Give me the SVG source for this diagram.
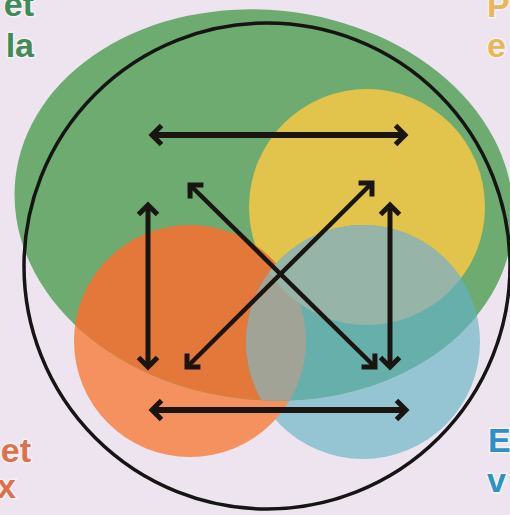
<svg xmlns="http://www.w3.org/2000/svg" width="510" height="515" viewBox="0 0 510 515">
  <defs>
    <style>
      .lbl { font-family: "Liberation Sans", Arial, sans-serif; font-weight: bold; font-size: 34px; stroke: #f6f0f6; stroke-width: 3; paint-order: stroke; }
      .arr { fill: none; stroke: #1b1512; stroke-linecap: butt; marker-start: url(#head); marker-end: url(#head); }
    </style>
    <marker id="head" markerUnits="userSpaceOnUse" viewBox="0 0 16 22" markerWidth="16" markerHeight="22" refX="12" refY="11" orient="auto-start-reverse" overflow="visible">
      <path d="M2.5,1.5 L12,11 L2.5,20.5" fill="none" stroke="#1b1512" stroke-width="5" stroke-linejoin="miter"/>
    </marker>
    <clipPath id="greenClip">
      <ellipse cx="264" cy="205" rx="250" ry="195" transform="rotate(6 264 205)"/>
    </clipPath>
    <clipPath id="orangeClip">
      <circle cx="190" cy="341" r="116"/>
    </clipPath>
    <clipPath id="yellowClip">
      <circle cx="367" cy="207" r="118"/>
    </clipPath>
  </defs>

  <rect width="510" height="515" fill="#ede4f0"/>

  <g id="node-blue-outer">
    <circle cx="363" cy="342" r="117" fill="#95c4d2"/>
  </g>
  <g id="node-orange-outer">
    <circle cx="190" cy="341" r="116" fill="#f5905f"/>
  </g>
  <g id="node-green">
    <ellipse cx="264" cy="205" rx="250" ry="195" transform="rotate(6 264 205)" fill="#6dab70"/>
  </g>
  <g id="node-yellow">
    <circle cx="367" cy="207" r="118" fill="#e2c34b"/>
  </g>
  <g id="overlaps" clip-path="url(#greenClip)">
    <circle cx="190" cy="341" r="116" fill="#e3783a"/>
    <circle cx="363" cy="342" r="117" fill="#67afab"/>
    <circle cx="363" cy="342" r="117" fill="#a0a396" clip-path="url(#orangeClip)"/>
    <circle cx="363" cy="342" r="117" fill="#96b5a8" clip-path="url(#yellowClip)"/>
  </g>

  <g id="node-outline">
    <circle cx="267" cy="266" r="243" fill="none" stroke="#161414" stroke-width="3.5"/>
  </g>

  <g id="connectors">
    <path class="arr" d="M152,135 H405" stroke-width="6"/>
    <path class="arr" d="M152,410 H406" stroke-width="6"/>
    <path class="arr" d="M148,205 V367" stroke-width="5"/>
    <path class="arr" d="M390,205 V367" stroke-width="5"/>
    <path class="arr" d="M190,185 L375,367" stroke-width="4.5"/>
    <path class="arr" d="M372,183 L187,367" stroke-width="4.5"/>
  </g>

  <g id="label-tl">
    <text class="lbl" x="34" y="16" text-anchor="end" fill="#3f8c56">et</text>
    <text class="lbl" x="34" y="57" text-anchor="end" fill="#3f8c56">la</text>
  </g>
  <g id="label-tr">
    <text class="lbl" x="487" y="17" fill="#e8b857">P</text>
    <text class="lbl" x="487" y="57" fill="#e8b857">e</text>
  </g>
  <g id="label-bl">
    <text class="lbl" x="31" y="462" text-anchor="end" fill="#dc7249">et</text>
    <text class="lbl" x="16" y="498" text-anchor="end" fill="#dc7249">x</text>
  </g>
  <g id="label-br">
    <text class="lbl" x="488" y="452" fill="#2b92c8">E</text>
    <text class="lbl" x="487" y="492" fill="#2b92c8">v</text>
  </g>
</svg>
